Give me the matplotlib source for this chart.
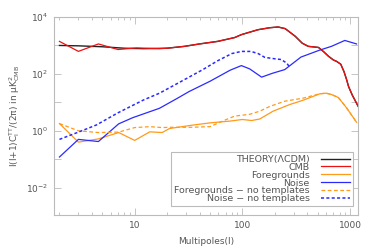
import numpy as np
import matplotlib
matplotlib.use("Agg")
import matplotlib.pyplot as plt
from matplotlib.ticker import FixedLocator, FuncFormatter, NullLocator, LogLocator

# ---- data ----
theory_l = [2, 3, 5, 8, 12, 20, 29, 40, 59, 85, 98, 140, 180, 215, 250, 310, 360, 410,
            470, 510, 570, 630, 700, 750, 820, 880, 930, 970, 1050, 1190]
theory_v = [1000, 970, 900, 800, 770, 800, 930, 1130, 1390, 1900, 2400, 3580, 4200, 4450,
            3900, 2100, 1200, 930, 880, 850, 600, 420, 310, 276, 220, 120, 63, 36, 18, 7.3]

cmb_l = [2, 3, 4.6, 7, 10.4, 17, 20, 29, 40, 59, 85, 98, 140, 180, 215, 250, 310, 360, 410,
         470, 510, 570, 630, 700, 750, 820, 880, 930, 970, 1050, 1190]
cmb_v = [1390, 620, 1130, 720, 820, 770, 800, 930, 1130, 1390, 1900, 2400, 3580, 4200, 4450,
         3900, 2100, 1200, 930, 880, 850, 600, 420, 310, 276, 220, 120, 63, 36, 18, 7.3]

fg_l = [2, 3, 4.6, 7.1, 10, 13.8, 18, 21, 33, 50, 77, 100, 122, 145, 193, 276, 365, 525,
        600, 670, 780, 930, 1150]
fg_v = [1.8, 0.4, 0.52, 0.87, 0.46, 0.92, 0.87, 1.2, 1.55, 1.9, 2.2, 2.5, 2.3, 2.6, 4.9,
        8.4, 11.8, 20, 21, 19, 14.8, 6.4, 2.0]

noise_l = [2, 3, 4.6, 7.1, 9.6, 17, 25, 32, 50, 77, 98, 117, 151, 190, 248, 350, 520, 675,
           895, 1150]
noise_v = [0.12, 0.5, 0.42, 1.76, 2.9, 6.2, 14, 24, 55, 135, 196, 150, 77, 105, 142, 390,
           680, 935, 1500, 1130]

fg_nt_l = [2, 3, 4.6, 7.1, 10, 13.8, 18, 21, 33, 50, 71, 85, 117, 145, 180, 248, 365, 525,
           600, 670, 780, 930, 1150]
fg_nt_v = [1.8, 1.0, 0.87, 0.9, 1.3, 1.4, 1.3, 1.33, 1.33, 1.4, 2.5, 3.3, 3.8, 4.9, 7.2,
           11, 14, 20, 21, 19, 14.8, 6.4, 2.0]

noise_nt_l = [2, 3, 4.4, 7, 12, 17, 29, 43, 59, 80, 98, 120, 140, 162, 200, 230, 258, 278]
noise_nt_v = [0.5, 0.9, 1.6, 4.3, 12, 21, 63, 142, 290, 520, 617, 617, 520, 380, 340, 320,
              240, 165]

labels = ["THEORY(\u039bCDM)", "CMB", "Foregrounds", "Noise",
          "Foregrounds \u2212 no templates", "Noise \u2212 no templates"]

# ---- style ----
txt = "#555555"
spine = "#bbbbbb"
plt.rcParams["font.family"] = ["DejaVu Sans"]
plt.rcParams["font.size"] = 6
plt.rcParams["mathtext.default"] = "regular"

fig = plt.figure(figsize=(3.75, 2.5), dpi=100)
ax = fig.add_axes([0.144, 0.14, 0.811, 0.792])

ax.plot(theory_l, theory_v, color="#222222", lw=1.0, label=labels[0])
ax.plot(cmb_l, cmb_v, color="#ee1111", lw=0.9, label=labels[1])
ax.plot(fg_l, fg_v, color="#ff9a1a", lw=0.9, label=labels[2])
ax.plot(noise_l, noise_v, color="#2a2aff", lw=0.9, label=labels[3])
ax.plot(fg_nt_l, fg_nt_v, color="#ff9a1a", lw=0.9, dashes=(3, 2), label=labels[4])
ax.plot(noise_nt_l, noise_nt_v, color="#2a2aff", lw=1.1, dashes=(2, 1.5), label=labels[5])

ax.set_xscale("log")
ax.set_yscale("log")
ax.set_xlim(1.78, 1190)
ax.set_ylim(1.1e-3, 1e4)

ax.yaxis.set_major_locator(FixedLocator([1e-3, 1e-2, 1e-1, 1, 10, 100, 1e3, 1e4]))
ax.yaxis.set_minor_locator(NullLocator())


def yfmt(v, pos):
    e = int(round(np.log10(v)))
    if e % 2 != 0:
        return ""
    return r"$10^{%d}$" % e


ax.yaxis.set_major_formatter(FuncFormatter(yfmt))
ax.xaxis.set_major_locator(FixedLocator([10, 100, 1000]))
ax.xaxis.set_major_formatter(FuncFormatter(lambda v, p: "%d" % v))
ax.xaxis.set_minor_locator(LogLocator(base=10, subs=np.arange(2, 10)))

ax.tick_params(which="both", direction="in", top=True, right=True, colors=spine,
               labelcolor=txt, labelsize=6.5, width=0.6)
ax.tick_params(which="major", length=5, pad=4)
ax.tick_params(which="minor", length=2.5)
for s in ax.spines.values():
    s.set_color(spine)
    s.set_linewidth(0.8)

ax.set_xlabel("Multipoles(l)", color=txt, fontsize=6.5, labelpad=5)
ax.set_ylabel(r"l(l+1)C$_l^{TT}$/(2$\pi$) in $\mu$K$^2_{CMB}$", color=txt, fontsize=6.5,
              labelpad=3)

leg = ax.legend(loc="lower right", bbox_to_anchor=(0.984, 0.045), borderaxespad=0,
                markerfirst=False, fontsize=6.8, labelspacing=-0.12, handlelength=3.1,
                handletextpad=1.2, borderpad=0.3, fancybox=False, framealpha=1,
                edgecolor=spine)
leg.get_frame().set_linewidth(0.8)
for t in leg.get_texts():
    t.set_color(txt)

fig.savefig("out.png", dpi=100)
